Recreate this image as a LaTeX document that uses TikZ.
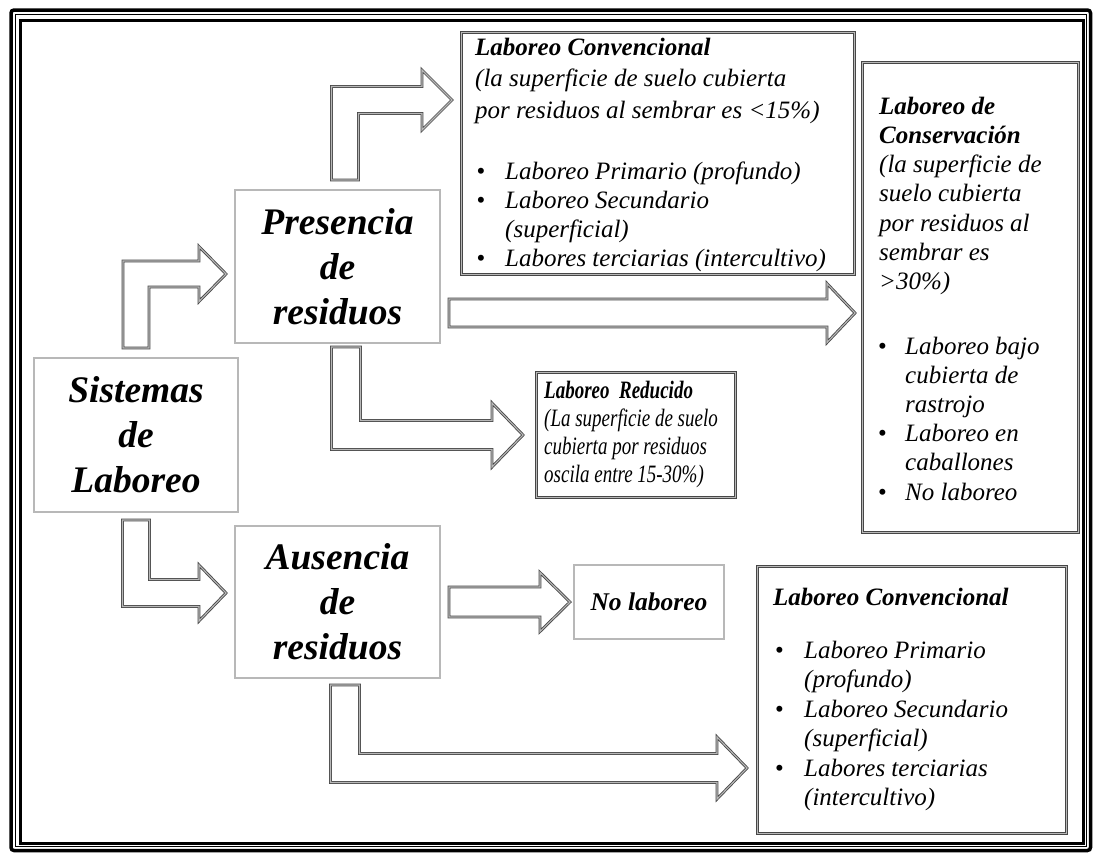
\documentclass[tikz,border=0pt]{standalone}
\usepackage{fontspec}
\setmainfont{Liberation Serif}
\newfontfamily\redfont[FakeStretch=0.76]{Liberation Serif}
\usetikzlibrary{calc}
\newcommand\bulit[2]{\makebox[#1][l]{\hspace{#2}\upshape\textbullet}}
\newcommand\indt[1]{\makebox[#1]{}}
\newcommand\firstln{\rule{0pt}{20pt}}
% block arrows: #1 start coord, #2 tip coord, #3 half shaft width, #4 head half height, #5 head length
\newcommand\arrUp[5]{\draw[barrow] let \p1=(#1), \p2=(#2) in
  (\x1-#3,\y1) -- (\x1-#3,\y2+#3) -- (\x2-#5,\y2+#3) -- (\x2-#5,\y2+#4) -- (\x2,\y2)
  -- (\x2-#5,\y2-#4) -- (\x2-#5,\y2-#3) -- (\x1+#3,\y2-#3) -- (\x1+#3,\y1) -- cycle;}
\newcommand\arrDown[5]{\draw[barrow] let \p1=(#1), \p2=(#2) in
  (\x1-#3,\y1) -- (\x1+#3,\y1) -- (\x1+#3,\y2+#3) -- (\x2-#5,\y2+#3) -- (\x2-#5,\y2+#4) -- (\x2,\y2)
  -- (\x2-#5,\y2-#4) -- (\x2-#5,\y2-#3) -- (\x1-#3,\y2-#3) -- cycle;}
\newcommand\arrRight[5]{\draw[barrow] let \p1=(#1), \p2=(#2) in
  (\x1,\y2+#3) -- (\x2-#5,\y2+#3) -- (\x2-#5,\y2+#4) -- (\x2,\y2)
  -- (\x2-#5,\y2-#4) -- (\x2-#5,\y2-#3) -- (\x1,\y2-#3) -- cycle;}
\tikzset{
  dbl/.style={draw=black!72, line width=0.85pt, double=black!28, double distance=1.1pt},
  dbox/.style={dbl, rectangle, inner sep=0pt, anchor=north west},
  ttlbox/.style={dbl, rectangle, inner sep=0pt, align=center,
    font=\fontsize{37.5}{45}\selectfont\bfseries\itshape},
  txt/.style={anchor=north west, inner sep=0pt, align=left, font=\fontsize{25}{29.5}\selectfont\itshape},
  barrow/.style={dbl, fill=white, line join=miter},
}
\begin{document}
\begin{tikzpicture}[x=1pt,y=-1pt]
\useasboundingbox (0,0) rectangle (1093,855);
\fill[white] (0,0) rectangle (1093,855);
% page frame
\draw[line width=3.5pt, rounded corners=3pt] (11,10) rectangle (1090.5,850.5);
\draw[line width=1pt] (15.5,14.5) rectangle (1086.5,846.5);
\draw[line width=3pt] (20.5,20) rectangle (1083,843);

% main boxes
\node[ttlbox, minimum width=204pt, minimum height=154pt] (sis) at (136,435) {Sistemas\\de\\Laboreo};
\node[ttlbox, minimum width=205pt, minimum height=153pt] (pre) at (337.5,266.5) {Presencia\\de\\residuos};
\node[ttlbox, minimum width=205pt, minimum height=152pt] (aus) at (337.5,602) {Ausencia\\de\\residuos};

% content boxes
\node[dbox, minimum width=393pt, minimum height=242pt] (conv1) at (461,32) {};
\node[dbox, minimum width=216pt, minimum height=470pt] (cons) at (862,62) {};
\node[dbox, minimum width=199pt, minimum height=125pt] (red) at (536,372) {};
\node[dbl, rectangle, inner sep=0pt, minimum width=150pt, minimum height=74pt,
      font=\fontsize{25.5}{30}\selectfont\bfseries\itshape] (nol) at (649,602) {No laboreo};
\node[dbox, minimum width=309pt, minimum height=267pt] (conv2) at (757,566) {};

% texts
\node[txt] (t1) at (475,35) {\firstln\textbf{Laboreo Convencional}\\[2pt]
(la superficie de suelo cubierta\\[2pt]
por residuos al sembrar es <15\%)\\[32pt]
\bulit{30pt}{1.5pt}Laboreo Primario (profundo)\\[-0.5pt]
\bulit{30pt}{1.5pt}Laboreo Secundario\\[-0.5pt]
\indt{30pt}(superficial)\\[-0.5pt]
\bulit{30pt}{1.5pt}Labores terciarias (intercultivo)};

\node[txt, font=\fontsize{25}{29.2}\selectfont\itshape] (t2) at (879,94) {\firstln\textbf{Laboreo de}\\
\textbf{Conservación}\\
(la superficie de\\
suelo cubierta\\
por residuos al\\
sembrar es\\
>30\%)\\[35.5pt]
\bulit{26pt}{-1pt}Laboreo bajo\\
\indt{26pt}cubierta de\\
\indt{26pt}rastrojo\\
\bulit{26pt}{-1pt}Laboreo en\\
\indt{26pt}caballones\\
\bulit{26pt}{-1pt}No laboreo};

\node[txt, font={\redfont\fontsize{25}{28}\selectfont\itshape}] (t3) at (544,378) {\firstln\textbf{Laboreo\ \ Reducido}\\
(La superficie de suelo\\
cubierta por residuos\\
oscila entre 15-30\%)};

\node[txt] (t4) at (773,585) {\firstln\textbf{Laboreo Convencional}\\[23.5pt]
\bulit{31pt}{2pt}Laboreo Primario\\
\indt{31pt}(profundo)\\
\bulit{31pt}{2pt}Laboreo Secundario\\
\indt{31pt}(superficial)\\
\bulit{31pt}{2pt}Labores terciarias\\
\indt{31pt}(intercultivo)};

% arrow anchor coordinates
\coordinate (a1s) at (136,348); \coordinate (a1t) at (226,274);
\coordinate (a2s) at (345,180); \coordinate (a2t) at (452,100);
\coordinate (a3s) at (449,313); \coordinate (a3t) at (855,313);
\coordinate (a4s) at (346,347); \coordinate (a4t) at (523,435);
\coordinate (a5s) at (136,520); \coordinate (a5t) at (226,593);
\coordinate (a6s) at (449,602); \coordinate (a6t) at (570,602);
\coordinate (a7s) at (345,685); \coordinate (a7t) at (747,768);

% block arrows
\arrUp{a1s}{a1t}{13pt}{27.5pt}{27pt}
\arrUp{a2s}{a2t}{13.5pt}{30pt}{30pt}
\arrRight{a3s}{a3t}{14pt}{29.5pt}{28pt}
\arrDown{a4s}{a4t}{14.5pt}{32pt}{31pt}
\arrDown{a5s}{a5t}{13.5pt}{28pt}{27pt}
\arrRight{a6s}{a6t}{15pt}{29.5pt}{30pt}
\arrDown{a7s}{a7t}{14.5pt}{31pt}{30pt}
\end{tikzpicture}
\end{document}
